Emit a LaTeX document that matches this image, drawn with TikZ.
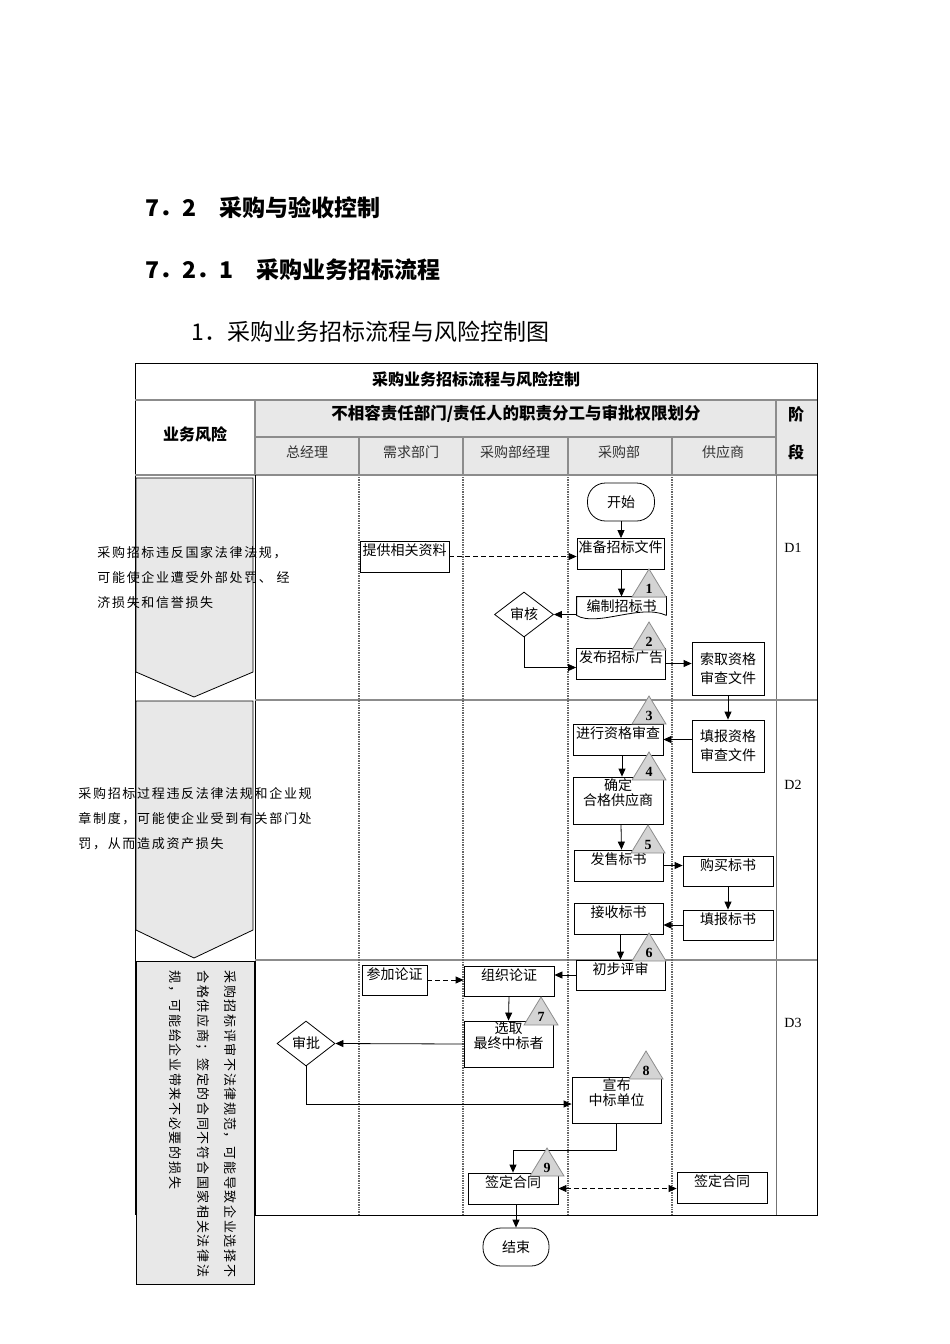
\documentclass[tikz,border=0pt]{standalone}
\usepackage{fontspec}
\setmainfont{Liberation Serif}
\newfontfamily\cjk{Noto Sans CJK SC}
\newfontfamily\riskfont[LetterSpace=13]{Noto Sans CJK SC}
\newcommand\flowfont{\cjk\fontsize{14}{15}\selectfont}
\newcommand\twofont{\cjk\fontsize{14}{19}\selectfont}
\usetikzlibrary{shapes.geometric,arrows.meta,calc,positioning}

\begin{document}
\begin{tikzpicture}[x=1pt,y=-1pt,line width=.8pt,>={Triangle[length=8pt,width=7pt]},
  box/.style={draw,inner sep=0pt,minimum width=89pt,align=center,font=\flowfont,text height=14pt,text depth=17pt},
  plain/.style={draw,inner sep=0pt,minimum width=72pt,align=center,font=\twofont},
  term/.style={draw,rounded corners=18pt,inner sep=0pt,minimum width=67pt,minimum height=38pt,font=\flowfont},
  decide/.style={draw,diamond,inner sep=0pt,minimum width=59pt,minimum height=45pt,font=\flowfont},
  flow/.style={->},
  dflow/.style={->,dash pattern=on 5pt off 3pt},
  lane/.style={densely dotted,line width=1.4pt,black!60},
  sep/.style={line width=2.2pt,black!45},
  risk/.style={draw=black,fill=black!9,line width=.8pt},
  tri/.style={draw=black!45,fill=black!17,line width=.8pt},
  num/.style={font=\bfseries\fontsize{14}{14}\selectfont,inner sep=0pt},
  head/.style={font=\cjk\bfseries\fontsize{16}{16}\selectfont,inner sep=0pt},
  risktext/.style={font=\riskfont\fontsize{13}{25}\selectfont,align=left,inner sep=0pt}]
\useasboundingbox (0,0) rectangle (950,1344);

\node[anchor=west,inner sep=0pt,font=\cjk\bfseries\fontsize{23}{23}\selectfont] (sec) at (145,208) {7．2　采购与验收控制};
\node[anchor=west,inner sep=0pt,font=\cjk\bfseries\fontsize{23}{23}\selectfont] (subsec) at (145,270) {7．2．1　采购业务招标流程};
\node[anchor=west,inner sep=0pt,font=\cjk\fontsize{23}{23}\selectfont] (figtitle) at (191,332) {1．采购业务招标流程与风险控制图};

\fill[black!9] (255,400) rectangle (817,475);
\draw (135,363) -- (817,363) -- (817,1215) -- (255,1215);
\draw (135,363) -- (135,1215);
\draw[sep] (135,400) -- (817,400);
\draw[sep] (255,437) -- (776,437);
\draw[sep] (135,475) -- (817,475);
\draw[sep] (255,400) -- (255,475);
\draw (255,475) -- (255,1215);
\draw[sep] (776,400) -- (776,475);
\draw[black!55] (776,475) -- (776,1215);
\draw[sep] (255,700) -- (817,700);
\draw[sep] (255,960) -- (817,960);
\foreach \x in {359,463,568,672}{
  \draw[sep] (\x,437) -- (\x,475);
  \draw[lane] (\x,477) -- (\x,1215);}

\node[head] (title) at (476,379) {采购业务招标流程与风险控制};
\node[head,font=\cjk\bfseries\fontsize{16.5}{16.5}\selectfont] (duty) at (516,414) {不相容责任部门/责任人的职责分工与审批权限划分};
\node[head] (riskhead) at (195,434) {业务风险};
\node[head] (stage1) at (796,414) {阶};
\node[head] (stage2) at (796,452) {段};
\foreach \name [count=\i] in {总经理,需求部门,采购部经理,采购部,供应商}
  \node[font=\cjk\fontsize{14}{14}\selectfont,text=black!80] (col\i) at (203+104*\i,452) {\name};

\filldraw[risk] (136,478) -- (253,478) -- (253,672) -- (194,697) -- (136,672) -- cycle;
\filldraw[risk] (136,701) -- (253,701) -- (253,930) -- (194,958) -- (136,930) -- cycle;
\filldraw[risk] (136,961) rectangle (254,1284);

\node[risktext,anchor=west] (risk1) at (97,578) {采购招标违反国家法律法规，\\可能使企业遭受外部处罚、 经\\济损失和信誉损失};
\node[risktext,anchor=west] (risk2) at (78,819) {采购招标过程违反法律法规和企业规\\章制度，可能使企业受到有关部门处\\罚，从而造成资产损失};
\node[risktext,font=\riskfont\fontsize{13}{27.5}\selectfont,rotate=-90,anchor=north west] (risk3) at (237,970) {采购招标评审不法律规范，可能导致企业选择不\\合格供应商；签定的合同不符合国家相关法律法\\规，可能给企业带来不必要的损失};

\foreach \d/\y in {1/548,2/785,3/1023}
  \node[font=\fontsize{14}{14}\selectfont] (d\d) at (793,\y) {D\d};

\node[term] (start) at (621,502) {开始};
\node[box,minimum width=87pt] (prep) at (620.5,554) {准备招标文件};
\node[box] (give) at (404.5,556.5) {提供相关资料};
\node[inner sep=0pt,minimum width=89pt,minimum height=18pt,font=\flowfont] (compile) at (621.5,606) {编制招标书};
\draw (compile.south east) -- (compile.north east) -- (compile.north west) -- (compile.south west)
  .. controls +(20,12) and +(-26,-12) .. (compile.south east);
\node[decide] (audit) at (524,614.5) {审核};
\node[box] (pub) at (621,663.5) {发布招标广告};
\node[plain,minimum height=53pt] (fetch) at (728,668.5) {索取资格\\审查文件};
\node[plain,minimum height=52pt] (fillq) at (728,746) {填报资格\\审查文件};
\node[box,minimum width=90pt] (check) at (618,739.5) {进行资格审查};
\node[box,minimum width=90pt,text height=28pt,text depth=19pt] (qual) at (618,800.5) {确定\\合格供应商};
\node[box] (sell) at (618.5,865.5) {发售标书};
\node[box,minimum width=90pt,text depth=16pt] (buy) at (728,871) {购买标书};
\node[box,minimum width=90pt,text depth=16pt] (fillbid) at (728,925) {填报标书};
\node[box] (recv) at (618.5,918.5) {接收标书};
\node[box,text depth=16pt] (prelim) at (620.5,975) {初步评审};
\node[box,minimum width=90pt,text depth=16pt] (org) at (509,981) {组织论证};
\node[box,minimum width=65pt,text depth=16pt] (join) at (394.5,980) {参加论证};
\node[box,text height=27pt,text depth=19pt] (select) at (508.5,1044) {选取\\最终中标者};
\node[decide,minimum width=58pt] (approve) at (306,1043.5) {审批};
\node[box,text height=28pt,text depth=18pt] (announce) at (616.5,1100) {宣布\\中标单位};
\node[box,minimum width=90pt] (sign) at (513,1188.5) {签定合同};
\node[box,minimum width=90pt] (sign2) at (722,1187.5) {签定合同};
\node[term,minimum width=66pt] (finish) at (516,1247) {结束};

\draw[flow] (start.south) -- (start.south |- prep.north);
\draw[dflow] (give.east) -- (give.east -| prep.west);
\draw[flow] (compile.north |- prep.south) -- (compile.north);
\draw[flow] (audit.east -| compile.west) -- (audit.east);
\draw[flow] (audit.south) |- ([yshift=-4pt]pub.west);
\draw[flow] (pub.east) -- (pub.east -| fetch.west);
\draw[flow] (fetch.south) -- (fillq.north);
\draw[flow] (check.east -| fillq.west) -- (check.east);
\draw[flow] ([xshift=4pt]check.south) -- ([xshift=4pt]qual.north);
\draw[flow] ([xshift=3pt]qual.south) -- ([xshift=3pt]sell.north);
\draw[flow] (sell.east) -- (sell.east -| buy.west);
\draw[flow] (buy.south) -- (fillbid.north);
\draw[flow] (fillbid.west) -- (fillbid.west -| recv.east);
\draw[flow] (prelim.north |- recv.south) -- (prelim.north);
\draw[flow] (prelim.west) -- (prelim.west -| org.east);
\draw[dflow] (join.east) -- (join.east -| org.west);
\draw[flow] (org.south) -- (select.north);
\draw[flow] (select.west) -- (approve.east);
\draw[flow] (approve.south) |- ([yshift=-4pt]announce.west);
\draw[flow] (announce.south) -- ++(0,27) -| (sign.north);
\draw[<->,dash pattern=on 5pt off 3pt] (sign.east) -- (sign.east -| sign2.west);
\draw[flow] (finish.north |- sign.south) -- (finish.north);

\foreach \n/\x/\y in {1/649/569,2/649/622,3/649/696,4/649/752,5/648/825,6/649/933,7/541/997,8/646/1051,9/547/1148}{
  \filldraw[tri] (\x,\y) -- ++(-17,28) -- ++(34,0) -- cycle;
  \node[num] (mark\n) at (\x,\y+20) {\n};}
\end{tikzpicture}
\end{document}
